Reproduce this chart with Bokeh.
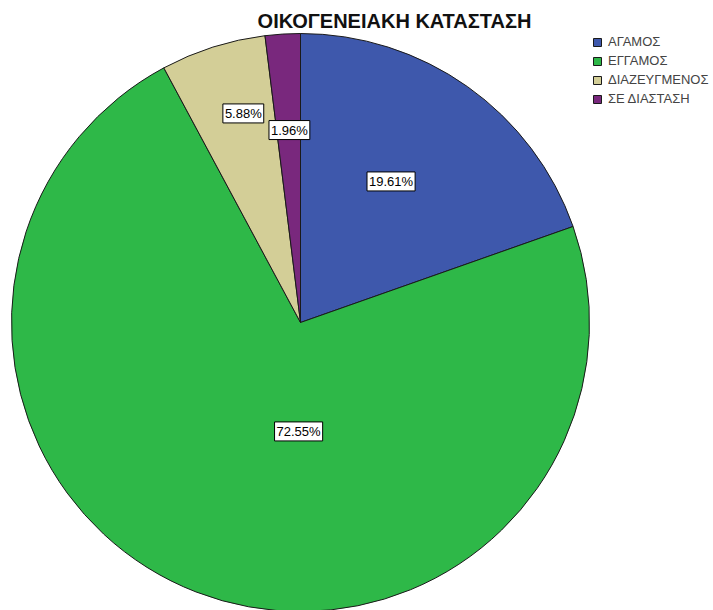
from bokeh.plotting import figure
from bokeh.models import ColumnDataSource, Label, Legend, LegendItem, Range1d
from bokeh.embed import file_html
from bokeh.resources import INLINE
import math

title_text = "ΟΙΚΟΓΕΝΕΙΑΚΗ ΚΑΤΑΣΤΑΣΗ"
categories = ["ΑΓΑΜΟΣ", "ΕΓΓΑΜΟΣ", "ΔΙΑΖΕΥΓΜΕΝΟΣ", "ΣΕ ΔΙΑΣΤΑΣΗ"]
percentages = [19.61, 72.55, 5.88, 1.96]
colors = ["#3E58AC", "#2EB848", "#D3CE97", "#79287D"]

# layout
W, H = 713, 610
cx, cy = 300, H - 322
R = 289
label_angle_deg = [57.3, -91.0, 105.3, 93.3]
label_rfrac = [0.58, 0.377, 0.75, 0.667]

total = sum(percentages)
starts, ends = [], []
cum = 0.0
for pct in percentages:
    end = math.radians(90 - cum / total * 360)
    start = math.radians(90 - (cum + pct) / total * 360)
    starts.append(start)
    ends.append(end)
    cum += pct

src = ColumnDataSource(dict(
    cat=categories, pct=percentages, color=colors,
    start=starts, end=ends,
    x=[cx] * len(categories), y=[cy] * len(categories),
))

p = figure(width=W, height=H, output_backend="svg", toolbar_location=None,
           x_range=Range1d(0, W), y_range=Range1d(0, H),
           x_axis_type=None, y_axis_type=None, min_border=0)
p.grid.visible = False
p.outline_line_color = None
p.background_fill_color = "white"

r = p.wedge(x="x", y="y", radius=R, start_angle="start", end_angle="end",
            direction="anticlock", fill_color="color", line_color="#1a1a1a",
            line_width=1, source=src)

for i, pct in enumerate(percentages):
    a = math.radians(label_angle_deg[i])
    rr = label_rfrac[i] * R
    p.add_layout(Label(x=cx + rr * math.cos(a), y=cy + rr * math.sin(a),
                       text=f"{pct:.2f}%", text_align="center", text_baseline="middle",
                       text_font="Liberation Sans", text_font_size="13px", text_color="black",
                       background_fill_color="white", border_line_color="black",
                       border_line_width=1, padding=2))

p.add_layout(Label(x=394, y=H - 20, text=title_text, text_align="center",
                   text_baseline="middle", text_font="Liberation Sans",
                   text_font_style="bold", text_font_size="20px", text_color="#111111"))

legend = Legend(items=[LegendItem(label=c, renderers=[r], index=i) for i, c in enumerate(categories)],
                location=(592, 504))
legend.border_line_alpha = 0
legend.background_fill_alpha = 0
legend.padding = 0
legend.margin = 0
legend.spacing = 4
legend.glyph_height = 10
legend.glyph_width = 10
legend.label_height = 13
legend.label_standoff = 6
legend.label_text_font = "Liberation Sans"
legend.label_text_font_size = "13px"
legend.label_text_baseline = "middle"
p.add_layout(legend)

open("out.html", "w").write(file_html(p, INLINE))
